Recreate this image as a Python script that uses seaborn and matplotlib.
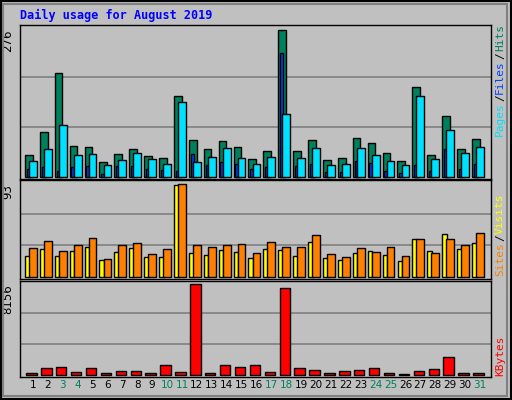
import numpy as np
import pandas as pd
import matplotlib
matplotlib.use("Agg")
import matplotlib.pyplot as plt
import seaborn as sns

days = list(range(1, 32))
hits = [41,84,195,58,56,28,43,53,39,36,152,69,53,68,56,34,49,276,49,69,32,36,73,64,45,30,169,41,115,53,71]
files = [15,19,11,19,21,6,21,21,15,13,11,43,23,28,24,15,19,233,21,24,9,9,30,26,11,8,23,11,53,15,24]
pages = [30,53,98,41,43,23,32,45,34,24,141,28,38,54,36,24,38,118,36,54,23,24,54,41,30,23,152,34,88,45,56]
sites = [21,28,21,26,30,17,25,29,20,20,92,24,22,27,25,19,28,27,21,35,19,17,24,26,22,16,38,26,43,28,34]
visits = [29,36,26,32,39,18,32,34,23,28,93,32,30,32,33,24,35,30,30,42,23,20,29,25,30,21,38,24,38,32,44]
kbytes = [208,655,744,298,655,208,387,387,208,923,298,8156,208,923,744,923,298,7799,655,476,208,387,476,655,208,119,387,566,1637,208,208]
weekend = [3,4,10,11,17,18,24,25,31]

W, H = 512, 400
BG = "#C0C0C0"
fig = plt.figure(figsize=(W/100, H/100), dpi=100, facecolor=BG)
sns.set_style("white")
plt.rcParams['font.family'] = ['DejaVu Sans Mono', 'DejaVu Sans']

def axes(top, bottom):
    return fig.add_axes([20/W, 1 - bottom/H, 471/W, (bottom-top)/H])

d = np.array(days, dtype=float)
x0, x1 = 0.13, 31.74

def bars(ax, off, vals, w, color):
    sns.barplot(x=d + off, y=vals, native_scale=True, width=w, color=color,
                edgecolor="black", linewidth=1, saturation=1, ax=ax, zorder=3)

panels = []
ax1 = axes(25, 179)
bars(ax1, -0.28, hits, 0.52, "#00805C")
bars(ax1, -0.32, files, 0.2, "#0040FF")
bars(ax1, 0.0, pages, 0.52, "#00E0FF")
ax1.set_ylim(-4, 285); panels.append((ax1, 276, "276"))

ax2 = axes(180, 278.5)
bars(ax2, -0.38, sites, 0.31, "#FFFF00")
bars(ax2, 0.0, visits, 0.52, "#FF8000")
ax2.set_ylim(-2, 97); panels.append((ax2, 93, "93"))

ax3 = axes(280.5, 377)
bars(ax3, -0.1, kbytes, 0.7, "#FF0000")
ax3.set_ylim(-150, 8451); panels.append((ax3, 8156, "8156"))

for ax, mx, lab in panels:
    ax.set_facecolor(BG)
    ax.set_xlim(x0, x1)
    ax.set_xticks([]); ax.set_yticks([])
    ax.set_xlabel(""); ax.set_ylabel("")
    for f in (1/3, 2/3):
        ax.axhline(mx * f * 1.02, color="#808080", lw=1.2, zorder=1)
    for s in ax.spines.values():
        s.set_color("black"); s.set_linewidth(1)
    ax.text(-0.012, mx, lab, transform=ax.get_yaxis_transform(), rotation=90,
            ha="right", va="top", fontsize=8.5, color="black", family="DejaVu Sans")

for i, day in enumerate(days):
    ax3.text(day, -0.03, str(day), transform=ax3.get_xaxis_transform(), ha="center", va="top",
             fontsize=7.5, family="DejaVu Sans", color="#00805C" if day in weekend else "black")

fig.text(20/W, 1 - 15/H, "Daily usage for August 2019", color="#0000FF", fontsize=8.5,
         fontweight="bold", va="center", ha="left")

fig.canvas.draw()
renderer = fig.canvas.get_renderer()

def right_label(parts, ybottom):
    y = 1 - ybottom/H
    for txt, col in parts:
        t = fig.text(500/W, y, txt, color=col, rotation=90, fontsize=8,
                     ha="center", va="bottom")
        bb = t.get_window_extent(renderer)
        y += (bb.height + 1) / H
right_label([("Pages", "#00E0FF"), ("/", "#000000"), ("Files", "#0040FF"), ("/", "#000000"), ("Hits", "#00805C")], 136)
right_label([("Sites", "#FF8000"), ("/", "#000000"), ("Visits", "#FFFF00")], 276)
right_label([("KBytes", "#FF0000")], 376)

fig.add_artist(plt.Rectangle((1/W, 1/H), 1 - 2/W, 1 - 2/H, transform=fig.transFigure,
                             fill=False, edgecolor="black", lw=1.5))
fig.add_artist(plt.Rectangle((3/W, 4/H), 1 - 8/W, 1 - 8/H, transform=fig.transFigure,
                             fill=False, edgecolor="#808080", lw=1.5))
fig.savefig("out.png", dpi=100, facecolor=BG)
